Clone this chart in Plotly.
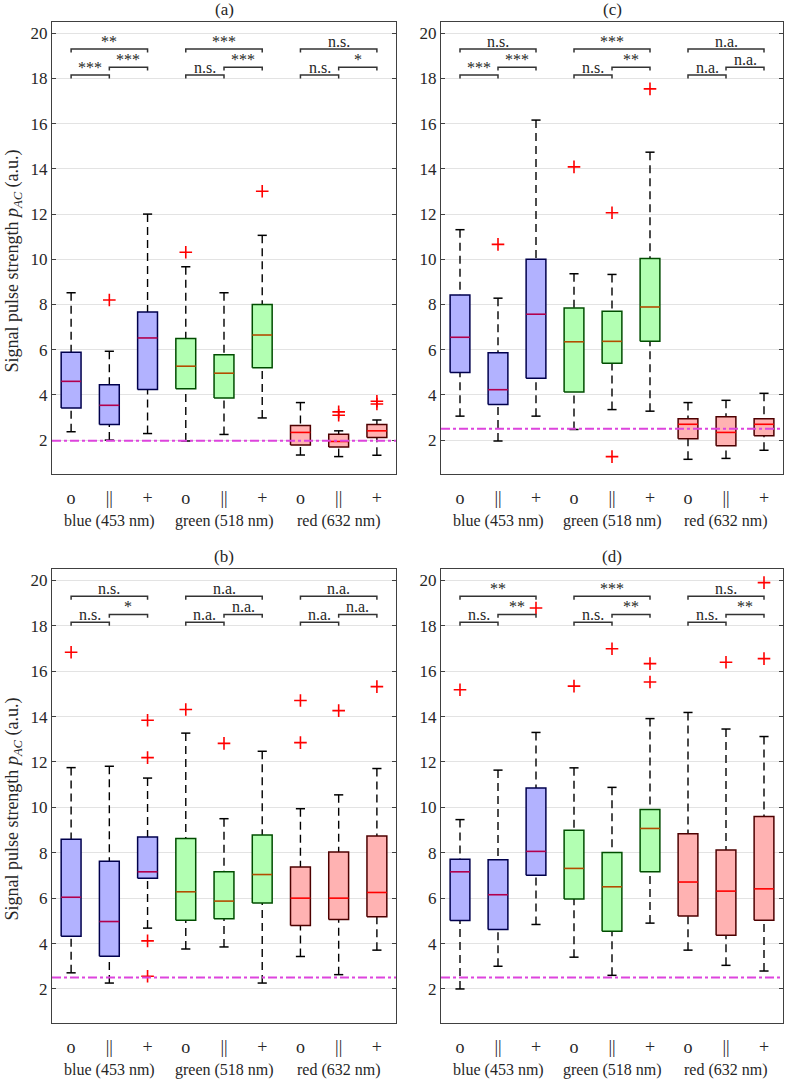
import plotly.graph_objects as go

# ---------------- data ----------------
CATEGORIES = ["o", "||", "+", "o", "||", "+", "o", "||", "+"]
GROUPS = ["blue (453 nm)", "green (518 nm)", "red (632 nm)"]
Y_TICKS = [2, 4, 6, 8, 10, 12, 14, 16, 18, 20]
Y_TITLE = "Signal pulse strength <i>p</i><sub><i>AC</i></sub> (a.u.)"

# panel (a)
A_LOWER = [2.37, 2.00, 2.29, 1.96, 2.25, 2.98, 1.34, 1.27, 1.33]
A_Q1 = [3.42, 2.69, 4.24, 4.27, 3.86, 5.20, 1.78, 1.69, 2.12]
A_MED = [4.60, 3.54, 6.52, 5.27, 4.96, 6.65, 2.34, 1.94, 2.41]
A_Q3 = [5.89, 4.45, 7.67, 6.50, 5.78, 8.00, 2.65, 2.26, 2.69]
A_UPPER = [8.52, 5.93, 12.00, 9.67, 8.52, 11.06, 3.66, 2.41, 2.89]
A_OUTLIERS = [[], [8.20], [], [10.31], [], [13.01], [], [3.25, 3.10], [3.72, 3.60]]
A_SIG = [["***", "***", "**"], ["n.s.", "***", "***"], ["n.s.", "*", "n.s."]]
A_THRESHOLD = 1.97

# panel (c)
C_LOWER = [3.06, 1.96, 3.06, 2.47, 3.35, 3.28, 1.15, 1.19, 1.55]
C_Q1 = [4.99, 3.57, 4.74, 4.13, 5.40, 6.37, 2.06, 1.75, 2.19]
C_MED = [6.55, 4.23, 7.57, 6.35, 6.37, 7.89, 2.70, 2.34, 2.70]
C_Q3 = [8.42, 5.86, 10.00, 7.85, 7.70, 10.03, 2.95, 3.03, 2.95]
C_UPPER = [11.31, 8.28, 16.16, 9.36, 9.33, 14.74, 3.66, 3.76, 4.07]
C_OUTLIERS = [[], [10.66], [], [14.09], [12.06, 1.27], [17.54], [], [], []]
C_SIG = [["***", "***", "n.s."], ["n.s.", "**", "***"], ["n.a.", "n.a.", "n.a."]]
C_THRESHOLD = 2.5

# panel (b)
B_LOWER = [2.71, 2.26, 4.68, 3.76, 3.85, 2.26, 3.43, 2.63, 3.71]
B_Q1 = [4.32, 3.44, 6.88, 5.03, 5.09, 5.79, 4.79, 5.06, 5.18]
B_MED = [6.04, 4.97, 7.16, 6.28, 5.87, 7.04, 6.00, 6.00, 6.25]
B_Q3 = [8.60, 7.63, 8.69, 8.63, 7.16, 8.78, 7.37, 8.03, 8.74]
B_UPPER = [11.75, 11.81, 11.29, 13.27, 9.50, 12.47, 9.94, 10.55, 11.71]
B_OUTLIERS = [[16.83], [], [13.84, 12.19, 4.12, 2.56], [14.31], [12.82], [], [14.71, 12.85], [14.26], [15.32]]
B_SIG = [["n.s.", "*", "n.s."], ["n.a.", "n.a.", "n.a."], ["n.a.", "n.a.", "n.a."]]
B_THRESHOLD = 2.5

# panel (d)
D_LOWER = [2.00, 3.00, 4.84, 3.40, 2.60, 4.90, 3.71, 3.04, 2.79]
D_Q1 = [5.01, 4.62, 7.01, 5.96, 4.54, 7.16, 5.21, 4.37, 5.03]
D_MED = [7.16, 6.15, 8.06, 7.31, 6.50, 9.07, 6.71, 6.31, 6.41]
D_Q3 = [7.71, 7.69, 10.85, 8.99, 8.01, 9.90, 8.84, 8.12, 9.60]
D_UPPER = [9.46, 11.64, 13.30, 11.74, 10.88, 13.91, 14.18, 13.45, 13.12]
D_OUTLIERS = [[15.18], [], [18.78], [15.34], [16.99], [16.33, 15.52], [], [16.39], [19.90, 16.55]]
D_SIG = [["n.s.", "**", "**"], ["n.s.", "**", "***"], ["n.s.", "**", "n.s."]]
D_THRESHOLD = 2.5

# ---------------- style ----------------
FONT = "Liberation Serif"
TEXT = "#262626"
FILL = ["#b2b2ff", "#b2ffb2", "#ffb2b2"]
EDGE = ["#00004d", "#004d00", "#4d0000"]
MEDC = ["#b2004d", "#b24d00", "#ff0000"]
BOX_HALF = 0.26
CAP_HALF = 0.12
BR_LEFT, BR_RIGHT, BR_TOP, BR_TICK = 18.15, 18.5, 19.3, 0.15

W, H = 786, 1079


def xdom(a, b):
    return [a / W, b / W]


def ydom(top, bottom):
    return [1 - bottom / H, 1 - top / H]


XD = {"L": xdom(52, 396), "R": xdom(441, 783)}
YD = {"T": ydom(22, 474), "B": ydom(569, 1023)}

fig = go.Figure()
annotations = []
shapes = []


def add_panel(k, title, lower, q1, med, q3, upper, outliers, sig, thr, xd, yd, ytitle):
    xa = "x" if k == 1 else f"x{k}"
    ya = "y" if k == 1 else f"y{k}"
    pos = list(range(1, len(CATEGORIES) + 1))
    common = dict(xaxis=xa, yaxis=ya, hoverinfo="skip", showlegend=False)

    # whiskers (dashed)
    wx, wy = [], []
    for p, lo, a, b, hi in zip(pos, lower, q1, q3, upper):
        wx += [p, p, None, p, p, None]
        wy += [hi, b, None, lo, a, None]
    fig.add_trace(go.Scatter(x=wx, y=wy, mode="lines",
                             line=dict(color="black", width=1.4, dash="8px,5px"), **common))
    # caps
    cx, cy = [], []
    for p, lo, hi in zip(pos, lower, upper):
        cx += [p - CAP_HALF, p + CAP_HALF, None, p - CAP_HALF, p + CAP_HALF, None]
        cy += [hi, hi, None, lo, lo, None]
    fig.add_trace(go.Scatter(x=cx, y=cy, mode="lines",
                             line=dict(color="black", width=1.5), **common))
    # boxes + medians
    for i, p in enumerate(pos):
        g = i // 3
        fig.add_trace(go.Scatter(
            x=[p - BOX_HALF, p + BOX_HALF, p + BOX_HALF, p - BOX_HALF, p - BOX_HALF],
            y=[q1[i], q1[i], q3[i], q3[i], q1[i]],
            mode="lines", fill="toself", fillcolor=FILL[g],
            line=dict(color=EDGE[g], width=1.5), **common))
        fig.add_trace(go.Scatter(
            x=[p - BOX_HALF, p + BOX_HALF], y=[med[i], med[i]],
            mode="lines", line=dict(color=MEDC[g], width=1.6), **common))
    # outliers
    ox, oy = [], []
    for p, outs in zip(pos, outliers):
        for v in outs:
            ox.append(p)
            oy.append(v)
    fig.add_trace(go.Scatter(x=ox, y=oy, mode="markers",
                             marker=dict(symbol="cross-thin", size=9,
                                         line=dict(color="red", width=1.6)), **common))
    # significance brackets
    bx, by = [], []
    for g in range(3):
        b1, b2, b3 = 3 * g + 1, 3 * g + 2, 3 * g + 3
        for (x0, x1, lev, lab) in [(b1, b2, BR_LEFT, sig[g][0]),
                                   (b2, b3, BR_RIGHT, sig[g][1]),
                                   (b1, b3, BR_TOP, sig[g][2])]:
            bx += [x0, x0, x1, x1, None]
            by += [lev - BR_TICK, lev, lev, lev - BR_TICK, None]
            annotations.append(dict(x=(x0 + x1) / 2, y=lev, xref=xa, yref=ya,
                                    text=lab, showarrow=False, yanchor="bottom",
                                    yshift=-3, font=dict(family=FONT, size=16, color=TEXT)))
    fig.add_trace(go.Scatter(x=bx, y=by, mode="lines",
                             line=dict(color="#333333", width=1.5), **common))
    # threshold line
    shapes.append(dict(type="line", xref=f"{xa} domain", x0=0, x1=1, yref=ya,
                       y0=thr, y1=thr, line=dict(color="#dd44dd", width=2, dash="dashdot")))
    # group labels
    for g, name in enumerate(GROUPS):
        annotations.append(dict(x=3 * g + 2, y=-0.103, xref=xa, yref=f"{ya} domain",
                                text=name, showarrow=False, yanchor="middle",
                                font=dict(family=FONT, size=16, color=TEXT)))
    # panel title
    annotations.append(dict(x=0.5, y=1, xref=f"{xa} domain", yref=f"{ya} domain",
                            text=title, showarrow=False, yanchor="bottom", yshift=1,
                            font=dict(family=FONT, size=17, color=TEXT)))
    # y-axis label (left panels only), slightly below the axis centre as in the original
    if ytitle:
        annotations.append(dict(x=0, y=0.47, xref=f"{xa} domain", yref=f"{ya} domain",
                                xshift=-38, text=Y_TITLE, textangle=-90, showarrow=False,
                                xanchor="center", yanchor="middle",
                                font=dict(family=FONT, size=18, color=TEXT)))

    axis_common = dict(showline=True, linecolor="#404040", linewidth=1, mirror="ticks",
                       zeroline=False, automargin=False)
    fig.layout[xa.replace("x", "xaxis")] = dict(
        domain=xd, range=[0.5, 9.5], tickvals=pos, ticktext=CATEGORIES,
        showgrid=False, ticks="", ticklabelstandoff=7, anchor=ya,
        tickfont=dict(family=FONT, size=18, color=TEXT), **axis_common)
    fig.layout[ya.replace("y", "yaxis")] = dict(
        domain=yd, range=[0.5, 20.5], tickvals=Y_TICKS, showgrid=True,
        gridcolor="#e3e3e3", gridwidth=1, ticks="inside", ticklen=4,
        tickcolor="#404040", anchor=xa,
        tickfont=dict(family=FONT, size=17, color=TEXT), **axis_common)


add_panel(1, "(a)", A_LOWER, A_Q1, A_MED, A_Q3, A_UPPER, A_OUTLIERS, A_SIG, A_THRESHOLD,
          XD["L"], YD["T"], True)
add_panel(2, "(c)", C_LOWER, C_Q1, C_MED, C_Q3, C_UPPER, C_OUTLIERS, C_SIG, C_THRESHOLD,
          XD["R"], YD["T"], False)
add_panel(3, "(b)", B_LOWER, B_Q1, B_MED, B_Q3, B_UPPER, B_OUTLIERS, B_SIG, B_THRESHOLD,
          XD["L"], YD["B"], True)
add_panel(4, "(d)", D_LOWER, D_Q1, D_MED, D_Q3, D_UPPER, D_OUTLIERS, D_SIG, D_THRESHOLD,
          XD["R"], YD["B"], False)

fig.update_layout(width=W, height=H, margin=dict(l=0, r=0, t=0, b=0),
                  paper_bgcolor="white", plot_bgcolor="white",
                  annotations=annotations, shapes=shapes,
                  font=dict(family=FONT, color=TEXT))

# remove the browser's default 8px page margin so the figure fills the window
fig.write_html("out.html", config={"displayModeBar": False},
               post_script="document.body.style.margin='0px';")
